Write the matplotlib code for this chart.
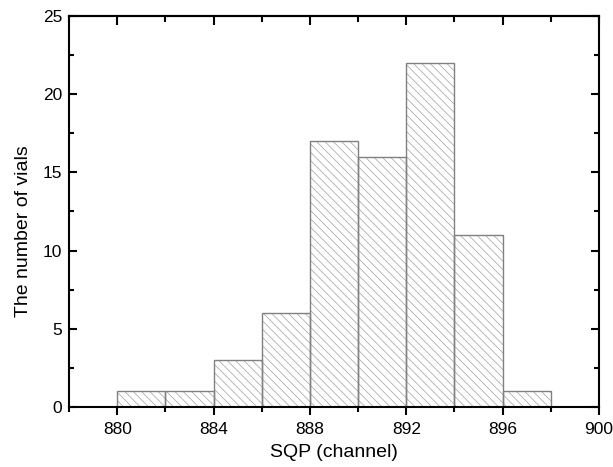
import numpy as np
import matplotlib.pyplot as plt
from matplotlib.ticker import MultipleLocator

plt.rcParams['font.family'] = ['Liberation Sans', 'DejaVu Sans']
plt.rcParams['hatch.linewidth'] = 0.5

# Histogram data: bin edges and counts
bin_edges = [880, 882, 884, 886, 888, 890, 892, 894, 896, 898]
counts = [1, 1, 3, 6, 17, 16, 22, 11, 1]

fig = plt.figure(figsize=(6.13, 4.67), dpi=100)
ax = fig.add_axes([0.1126, 0.1285, 0.8646, 0.8373])

# hatched fill (hatch takes the edge colour), then the outline on top
ax.bar(bin_edges[:-1], counts, width=2, align='edge', facecolor='white',
       edgecolor='#a0a0a0', linewidth=0, hatch='\\\\\\\\')
ax.bar(bin_edges[:-1], counts, width=2, align='edge', facecolor='none',
       edgecolor='#808080', linewidth=1.0)

ax.set_xlim(878, 900)
ax.set_ylim(0, 25)
ax.xaxis.set_major_locator(MultipleLocator(4))
ax.xaxis.set_minor_locator(MultipleLocator(2))
ax.yaxis.set_major_locator(MultipleLocator(5))
ax.yaxis.set_minor_locator(MultipleLocator(2.5))

ax.tick_params(which='both', width=1.5, labelsize=12.5, pad=5)
ax.tick_params(axis='x', which='both', direction='out', top=False)
ax.tick_params(axis='y', which='both', direction='in', right=True)
ax.tick_params(which='major', length=6)
ax.tick_params(which='minor', length=3.5)
for side in ax.spines.values():
    side.set_linewidth(1.5)

# top axis with inward ticks, no labels
top = ax.secondary_xaxis('top')
top.xaxis.set_major_locator(MultipleLocator(4))
top.xaxis.set_minor_locator(MultipleLocator(2))
top.tick_params(which='both', direction='in', width=1.5, labeltop=False)
top.tick_params(which='major', length=6.5)
top.tick_params(which='minor', length=4)
top.spines['top'].set_linewidth(1.5)

ax.set_xlabel('SQP (channel)', fontsize=14)
ax.set_ylabel('The number of vials', fontsize=14)
ax.xaxis.set_label_coords(0.5, -0.095)
ax.yaxis.set_label_coords(-0.07, 0.45)

fig.savefig('out.png', dpi=100)
